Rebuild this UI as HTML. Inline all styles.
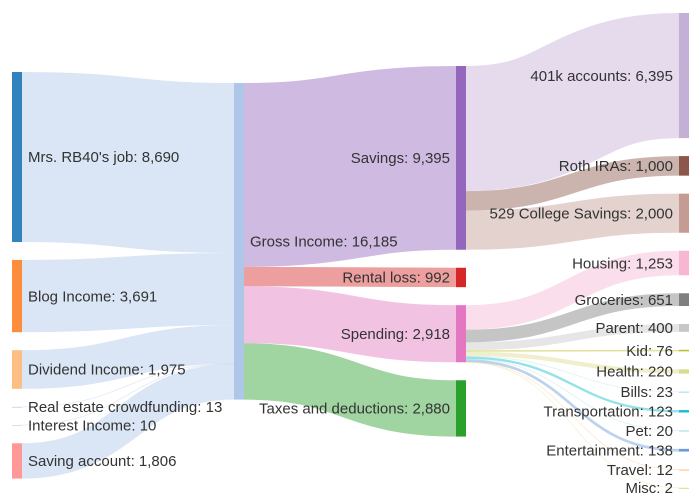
<!DOCTYPE html>
<html><head><meta charset="utf-8"><style>
html,body{margin:0;padding:0;background:#fff;}
svg{display:block;font-family:"Liberation Sans",Arial,sans-serif;font-size:15px;}
</style></head><body>
<svg id="chart" width="700" height="500" viewBox="0 0 700 500">
<g id="links"></g>
<g id="nodes"></g>
<g id="labels"></g>
</svg>
<script>
const nodeNames = ["Mrs. RB40's job","Blog Income","Dividend Income","Real estate crowdfunding","Interest Income","Saving account","Gross Income","Savings","Rental loss","Spending","Taxes and deductions","401k accounts","Roth IRAs","529 College Savings","Housing","Groceries","Parent","Kid","Health","Bills","Transportation","Pet","Entertainment","Travel","Misc"];
const nodeColumns = [0,0,0,0,0,0,1,2,2,2,2,3,3,3,3,3,3,3,3,3,3,3,3,3,3];
const nodeColors = ["#3182bd","#fd8d3c","#fdbe85","#c6dbef","#dadaeb","#ff9896","#aec7e8","#9467bd","#d62728","#e377c2","#2ca02c","#c5b0d5","#8c564b","#c49c94","#f7b6d2","#7f7f7f","#c7c7c7","#bcbd22","#dbdb8d","#9edae5","#17becf","#9edae5","#6b9bd6","#ffbb78","#dbdb8d"];
const linkSources = [0,1,2,3,4,5,6,6,6,6,7,7,7,9,9,9,9,9,9,9,9,9,9,9];
const linkTargets = [6,6,6,6,6,6,7,8,9,10,11,12,13,14,15,16,17,18,19,20,21,22,23,24];
const linkValues = [8690,3691,1975,13,10,1806,9395,992,2918,2880,6395,1000,2000,1253,651,400,76,220,23,123,20,138,12,2];

// layout parameters
const colX = [12,234,456,679], nodeW = 10, colTop = [72,83,66,13], pad = 18, k = 0.01956;
const NS = "http://www.w3.org/2000/svg";
const N = nodeNames.length;
const inV = new Array(N).fill(0), outV = new Array(N).fill(0);
linkValues.forEach((v,i)=>{outV[linkSources[i]]+=v; inV[linkTargets[i]]+=v;});
const nodes = nodeNames.map((n,i)=>({name:n,col:nodeColumns[i],value:Math.max(inV[i],outV[i])}));
const cursor = colTop.slice();
nodes.forEach(nd=>{nd.x0=colX[nd.col];nd.y0=cursor[nd.col];nd.h=nd.value*k;nd.y1=nd.y0+nd.h;cursor[nd.col]=nd.y1+pad;});
const links = linkValues.map((v,i)=>({s:linkSources[i],t:linkTargets[i],w:v*k}));
const so = nodes.map(n=>n.y0), to = nodes.map(n=>n.y0);
links.slice().sort((a,b)=>nodes[a.t].y0-nodes[b.t].y0).forEach(l=>{l.sy=so[l.s]+l.w/2;so[l.s]+=l.w;});
links.slice().sort((a,b)=>nodes[a.s].y0-nodes[b.s].y0).forEach(l=>{l.ty=to[l.t]+l.w/2;to[l.t]+=l.w;});
const fmt = v=>v.toLocaleString("en-US");
const gL = document.getElementById("links"), gN = document.getElementById("nodes"), gT = document.getElementById("labels");
links.forEach((l,i)=>{
  const x0=nodes[l.s].x0+nodeW, x1=nodes[l.t].x0, xm=(x0+x1)/2;
  const p=document.createElementNS(NS,"path");
  p.setAttribute("d",`M${x0},${l.sy}C${xm},${l.sy} ${xm},${l.ty} ${x1},${l.ty}`);
  p.setAttribute("fill","none");
  p.setAttribute("stroke",nodeColors[l.t]);
  p.setAttribute("stroke-opacity", l.w<1 ? "0.35" : "0.45");
  p.setAttribute("stroke-width",Math.max(l.w,0.8));
  
  
  gL.appendChild(p);
});
nodes.forEach((nd,i)=>{
  const r=document.createElementNS(NS,"rect");
  r.setAttribute("x",nd.x0);r.setAttribute("y",nd.y0);r.setAttribute("width",nodeW);r.setAttribute("height",Math.max(nd.h,1));
  r.setAttribute("fill",nodeColors[i]);
  
  
  gN.appendChild(r);
  const t=document.createElementNS(NS,"text");
  const left = nd.col<2;
  t.setAttribute("x", left ? nd.x0+nodeW+6 : nd.x0-6);
  t.setAttribute("y", (nd.y0+nd.y1)/2);
  t.setAttribute("dy","0.35em");
  t.setAttribute("text-anchor", left ? "start" : "end");
  t.setAttribute("fill","#333");
  t.textContent = nd.name+": "+fmt(nd.value);
  
  
  gT.appendChild(t);
});
</script>
</body></html>
